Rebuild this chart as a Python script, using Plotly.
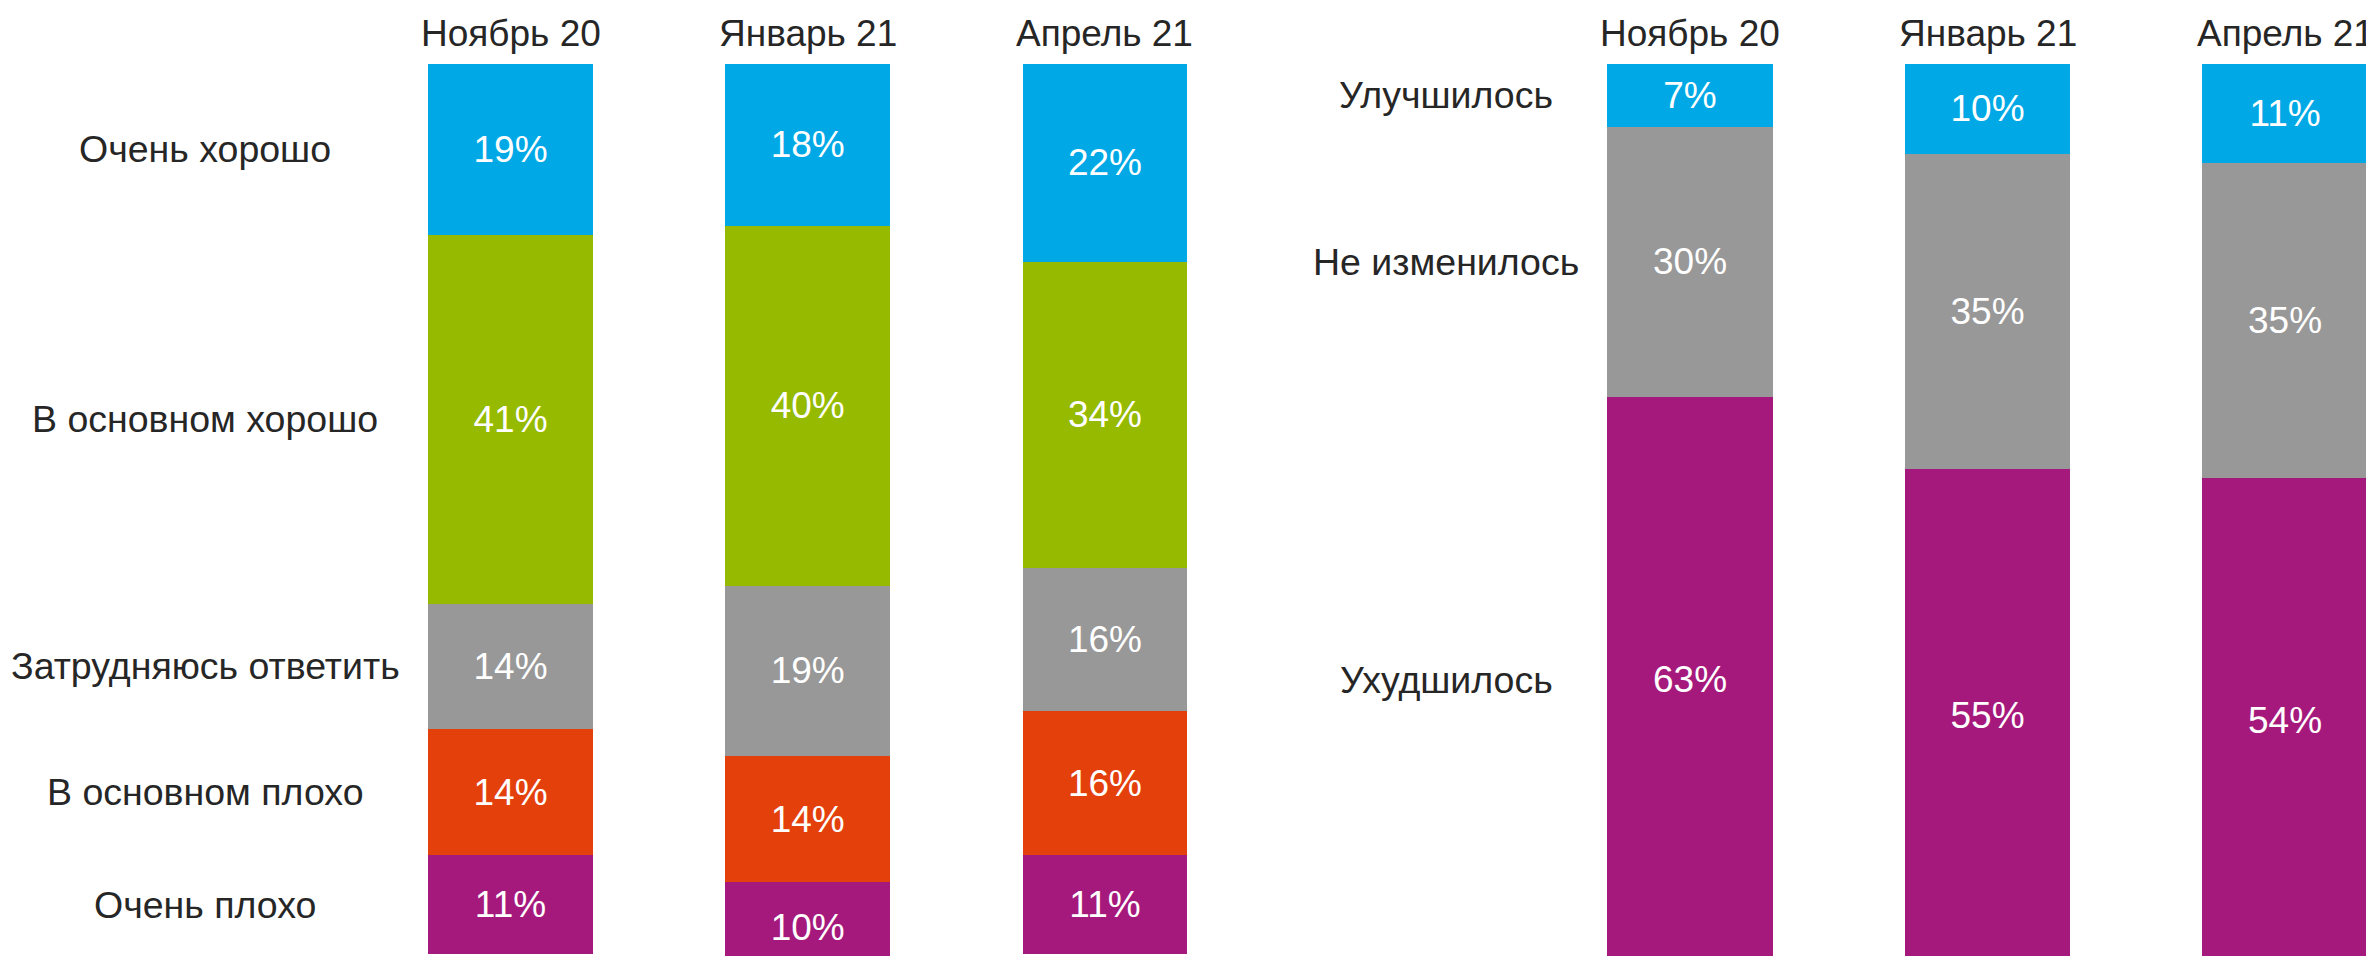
import plotly.graph_objects as go

# ---- data ----
periods = ["Ноябрь 20", "Январь 21", "Апрель 21"]

left_categories = ["Очень хорошо", "В основном хорошо", "Затрудняюсь ответить",
                   "В основном плохо", "Очень плохо"]
very_good = [19, 18, 22]
mostly_good = [41, 40, 34]
hard_to_say = [14, 19, 16]
mostly_bad = [14, 14, 16]
very_bad = [11, 10, 11]

right_categories = ["Улучшилось", "Не изменилось", "Ухудшилось"]
improved = [7, 10, 11]
unchanged = [30, 35, 35]
worsened = [63, 55, 54]

# ---- styles ----
OFF = 8                      # default page body margin
W, H = 2374 - OFF, 956 - OFF
FONT = "Liberation Sans, Arial, sans-serif"
TXT = "#262626"
BLUE, GREEN, GREY, ORANGE, PURPLE = "#00A9E6", "#95BA00", "#989898", "#E4400C", "#A6197C"

left_series = [very_good, mostly_good, hard_to_say, mostly_bad, very_bad]
left_colors = [BLUE, GREEN, GREY, ORANGE, PURPLE]
right_series = [improved, unchanged, worsened]
right_colors = [BLUE, GREY, PURPLE]

fig = go.Figure()

def add_bars(series_list, names, colors, xa, ya):
    for vals, name, col in zip(series_list, names, colors):
        fig.add_trace(go.Bar(
            x=periods, y=vals, name=name, xaxis=xa, yaxis=ya,
            width=0.555,
            marker=dict(color=col, line=dict(width=0)),
            text=[f"{v}%" for v in vals],
            textposition="inside", insidetextanchor="middle", textangle=0,
            constraintext="none",
            textfont=dict(color="white", size=37, family=FONT),
            hoverinfo="skip", showlegend=False,
        ))

add_bars(left_series, left_categories, left_colors, "x", "y")
add_bars(right_series, right_categories, right_colors, "x2", "y2")

annotations = []
# period titles above bars
for xr in ["x", "x2"]:
    for p in periods:
        annotations.append(dict(
            x=p, xref=xr, y=1, yref="paper", yanchor="middle", xanchor="center",
            yshift=31, text=p, showarrow=False,
            font=dict(size=37, color=TXT, family=FONT)))

# category labels aligned with first-period segments
def add_labels(series_list, names, yref, xpix):
    cum = 0
    for vals, name in zip(series_list, names):
        v = vals[0]
        annotations.append(dict(
            x=(xpix - OFF) / W, xref="paper", y=cum + v / 2, yref=yref,
            xanchor="center", yanchor="middle", text=name, showarrow=False,
            font=dict(size=37.5, color=TXT, family=FONT)))
        cum += v

add_labels(left_series, left_categories, "y", 205)
add_labels(right_series, right_categories, "y2", 1446)

YMAX = 99.2
axis_common = dict(showgrid=False, zeroline=False, showline=False,
                   showticklabels=False, ticks="")

fig.update_layout(
    width=W, height=H,
    margin=dict(l=0, r=0, t=64 - OFF, b=0),
    paper_bgcolor="white", plot_bgcolor="white",
    barmode="stack",
    font=dict(family=FONT, color=TXT),
    xaxis=dict(domain=[(361.9 - OFF) / W, (1253.6 - OFF) / W], range=[-0.5, 2.5], **axis_common),
    xaxis2=dict(domain=[(1541.25 - OFF) / W, 1.0], range=[-0.5, 2.299], anchor="y2", **axis_common),
    yaxis=dict(domain=[0, 1], range=[YMAX, 0], anchor="x", **axis_common),
    yaxis2=dict(domain=[0, 1], range=[YMAX, 0], anchor="x2", **axis_common),
    annotations=annotations,
)

fig.write_html("out.html")
